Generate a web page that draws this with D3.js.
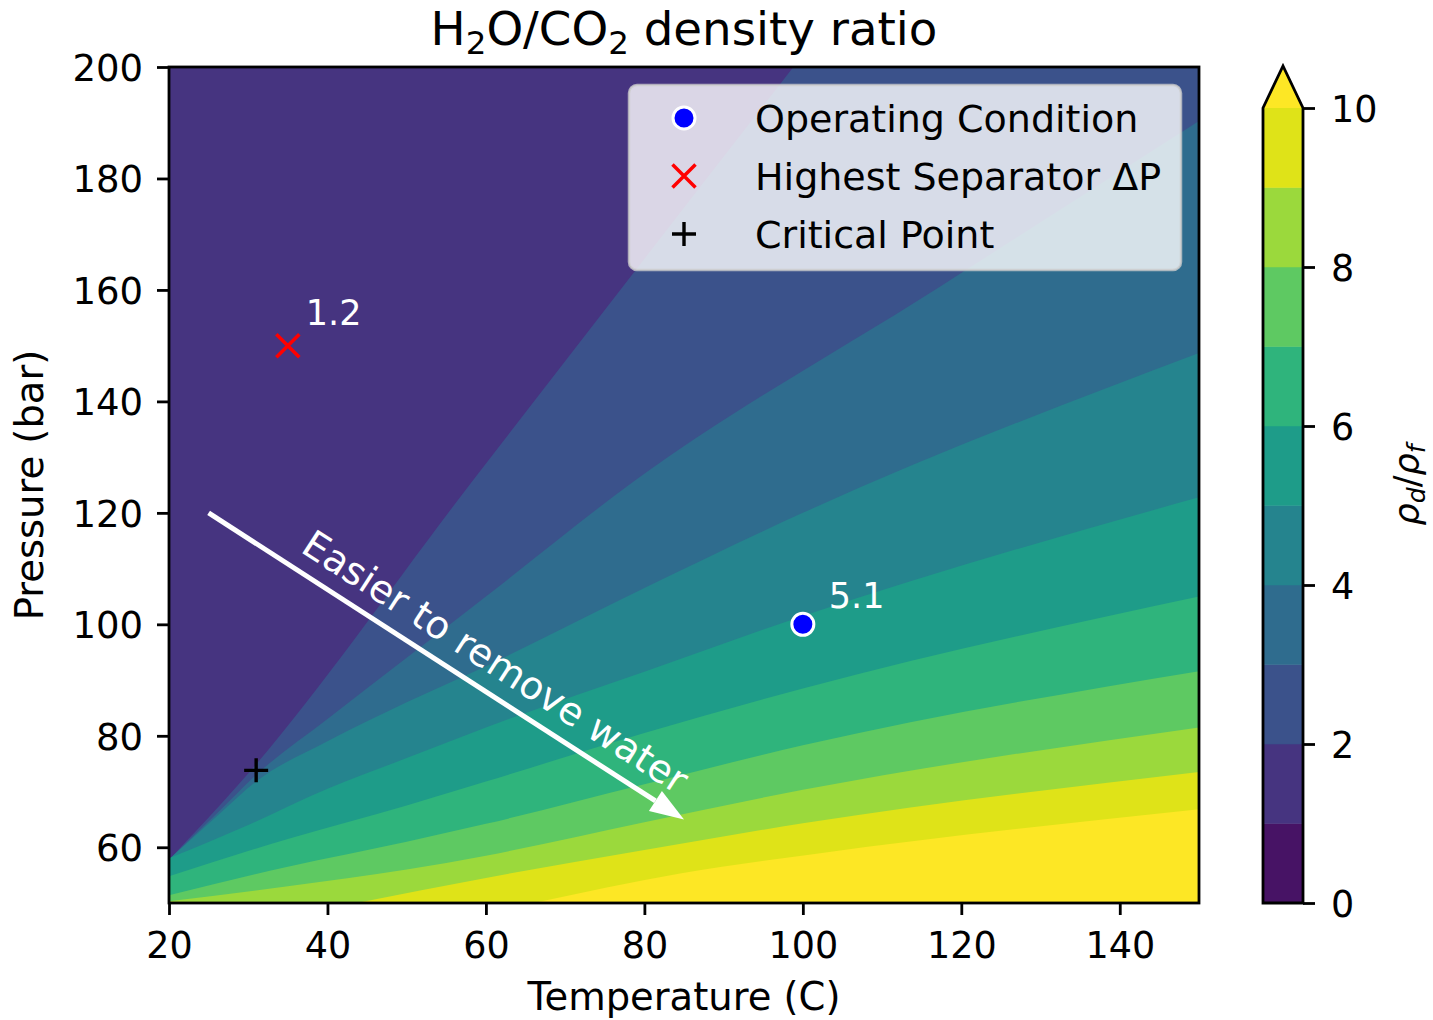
<!DOCTYPE html>
<html><head><meta charset="utf-8">
<script src="https://cdn.jsdelivr.net/npm/d3@7"></script>
<style>
body{margin:0;background:#fff}
text{font-family:"DejaVu Sans",sans-serif}
</style>
</head><body>
<svg id="chart" width="1433" height="1020"></svg>
<script>
// ---------------- data ----------------
const tempDomain = [20, 150];
const presDomain = [50, 200];
const xTicks = [20, 40, 60, 80, 100, 120, 140];
const yTicks = [60, 80, 100, 120, 140, 160, 180, 200];
const cbLevels = [0, 1, 2, 3, 4, 5, 6, 7, 8, 9, 10];
const cbTicks = [0, 2, 4, 6, 8, 10];

// contour boundaries (Temperature C, Pressure bar)
const boundary2  = [[20.3,58.2],[29.3,72.1],[58.4,125.9],[98.8,200]];
const boundary3  = [[20.3,58.2],[26,66],[31,73],[40,83],[50,94],[60,105],[78.9,125.9],[117.2,160.5],[150,190.3]];
const boundary4  = [[20.3,58.2],[26,65.5],[31,71.8],[40,79],[50,86],[60,92.5],[80,106.5],[100,120],[150,148.7]];
const boundary5  = [[20.3,58.2],[30,64],[40,70.5],[50,76],[60,81.5],[80,91.5],[100,101.5],[150,122.8]];
const boundary6  = [[20,54.8],[35,61.5],[50,67.5],[60,71.8],[80,80.5],[100,88.5],[150,105]];
const boundary7  = [[20,51.4],[35,56.5],[50,61],[60,64.2],[80,71.3],[100,78.3],[150,91.6]];
const boundary8  = [[20,50.3],[35,53],[50,56],[60,58.5],[80,64.5],[100,70.3],[150,81.5]];
const boundary9  = [[43.7,50],[60,54.5],[80,59.5],[100,64.3],[150,73.5]];
const boundary10 = [[66,50],[84.5,55.3],[101.5,58.8],[150,66.8]];
const boundaryLevels = [2,3,4,5,6,7,8,9,10];
const boundaries = [boundary2,boundary3,boundary4,boundary5,boundary6,boundary7,boundary8,boundary9,boundary10];

const operating = {T:100, P:100, label:"5.1", name:"Operating Condition"};
const highestDP = {T:35, P:150, label:"1.2", name:"Highest Separator ΔP"};
const critical  = {T:31, P:73.8, name:"Critical Point"};
const arrowFrom = [25, 120];
const arrowTo   = [85, 65];
const arrowText = "Easier to remove water";
const arrowTextAt = [61.2, 93.3];

// ---------------- layout ----------------
const svg = d3.select("#chart");
const L = 169, R = 1199, T = 67, B = 903;
const x = d3.scaleLinear().domain(tempDomain).range([L, R]);
const y = d3.scaleLinear().domain(presDomain).range([B, T]);
const bandColor = v => d3.interpolateViridis((v + 0.5) / 10);
const overColor = d3.interpolateViridis(1);
const lw = 2.8;
const tickFont = 36.5, labelFont = 38.5;

svg.append("clipPath").attr("id","plotclip")
  .append("rect").attr("x",L).attr("y",T).attr("width",R-L).attr("height",B-T);
const plot = svg.append("g").attr("clip-path","url(#plotclip)");
plot.append("rect").attr("x",L).attr("y",T).attr("width",R-L).attr("height",B-T)
  .attr("fill", bandColor(1));

const curve = d3.line().curve(d3.curveMonotoneX);
function regionPath(pts){
  const p = pts.map(d => [x(d[0]), y(d[1])]);
  const n = p.length;
  const ext = (a, b) => { const dx=a[0]-b[0], dy=a[1]-b[1], l=Math.hypot(dx,dy); return [a[0]+dx/l*3000, a[1]+dy/l*3000]; };
  const s = ext(p[0], p[1]);
  const e = ext(p[n-1], p[n-2]);
  const c = curve(p).replace(/^M/, "L");
  return `M${s[0]},${s[1]}${c}L${e[0]},${e[1]}L6000,6000Z`;
}
boundaries.forEach((pts, i) => {
  const lev = boundaryLevels[i];
  plot.append("path")
    .attr("d", regionPath(pts))
    .attr("fill", lev >= 10 ? overColor : bandColor(lev));
});

// arrow
const ax0 = x(arrowFrom[0]), ay0 = y(arrowFrom[1]), ax1 = x(arrowTo[0]), ay1 = y(arrowTo[1]);
const ang = Math.atan2(ay1 - ay0, ax1 - ax0);
const headL = 34, headW = 12;
const bx = ax1 - Math.cos(ang)*headL, by = ay1 - Math.sin(ang)*headL;
plot.append("line").attr("x1",ax0).attr("y1",ay0).attr("x2",bx).attr("y2",by)
  .attr("stroke","#fff").attr("stroke-width",5);
plot.append("path").attr("fill","#fff")
  .attr("d", d3.line()([[ax1,ay1],[bx - Math.sin(ang)*headW, by + Math.cos(ang)*headW],[bx + Math.sin(ang)*headW, by - Math.cos(ang)*headW]]) + "Z");
const deg = ang * 180 / Math.PI;
plot.append("text")
  .attr("transform", `translate(${x(arrowTextAt[0])},${y(arrowTextAt[1])}) rotate(${deg})`)
  .attr("text-anchor","middle").attr("dominant-baseline","central")
  .attr("font-size",38.5).attr("fill","#fff").text(arrowText);

// markers
function drawMarkers(g, cx, cy, kind){
  if (kind === "o") {
    g.append("circle").attr("cx",cx).attr("cy",cy).attr("r",11)
      .attr("fill","#0000ff").attr("stroke","#fff").attr("stroke-width",3);
  } else if (kind === "x") {
    const s = 11.5;
    g.append("path").attr("d",`M${cx-s},${cy-s}L${cx+s},${cy+s}M${cx-s},${cy+s}L${cx+s},${cy-s}`)
      .attr("stroke","#ff0000").attr("stroke-width",3.5).attr("fill","none");
  } else {
    const s = 12;
    g.append("path").attr("d",`M${cx-s},${cy}L${cx+s},${cy}M${cx},${cy-s}L${cx},${cy+s}`)
      .attr("stroke","#000").attr("stroke-width",3.4).attr("fill","none");
  }
}
drawMarkers(plot, x(operating.T), y(operating.P), "o");
drawMarkers(plot, x(highestDP.T), y(highestDP.P), "x");
drawMarkers(plot, x(critical.T), y(critical.P), "+");
plot.append("text").attr("x", x(operating.T)+26).attr("y", y(operating.P)-16)
  .attr("font-size",35).attr("fill","#fff").text(operating.label);
plot.append("text").attr("x", x(highestDP.T)+18).attr("y", y(highestDP.P)-21)
  .attr("font-size",35).attr("fill","#fff").text(highestDP.label);

// legend
const lg = svg.append("g");
lg.append("rect").attr("x",629).attr("y",85).attr("width",552).attr("height",185).attr("rx",8)
  .attr("fill","#fff").attr("fill-opacity",0.8).attr("stroke","#cccccc").attr("stroke-opacity",0.8).attr("stroke-width",2.5);
const legItems = [[operating.name,"o"],[highestDP.name,"x"],[critical.name,"+"]];
legItems.forEach((d,i) => {
  const cy = 118 + i*58;
  drawMarkers(lg, 684, cy, d[1]);
  lg.append("text").attr("x",755).attr("y",cy).attr("dy","0.36em").attr("font-size",38).attr("fill","#000").text(d[0]);
});

// spines
svg.append("rect").attr("x",L).attr("y",T).attr("width",R-L).attr("height",B-T)
  .attr("fill","none").attr("stroke","#000").attr("stroke-width",lw);

// axes
const xa = svg.append("g").attr("transform",`translate(0,${B})`)
  .call(d3.axisBottom(x).tickValues(xTicks).tickSizeInner(12).tickSizeOuter(0).tickPadding(17));
const ya = svg.append("g").attr("transform",`translate(${L},0)`)
  .call(d3.axisLeft(y).tickValues(yTicks).tickSizeInner(12).tickSizeOuter(0).tickPadding(14));
[xa, ya].forEach(a => {
  a.select(".domain").remove();
  a.selectAll(".tick line").attr("stroke","#000").attr("stroke-width",lw);
  a.selectAll(".tick text").attr("font-size",tickFont).attr("fill","#000").attr("font-family","DejaVu Sans");
});
ya.selectAll(".tick text").attr("dy","0.36em").attr("font-size",37);

svg.append("text").attr("x",(L+R)/2).attr("y",1010).attr("text-anchor","middle")
  .attr("font-size",labelFont).text("Temperature (C)");
svg.append("text").attr("transform",`translate(43,${(T+B)/2}) rotate(-90)`).attr("text-anchor","middle")
  .attr("font-size",labelFont).text("Pressure (bar)");

// title
const tt = svg.append("text").attr("x",(L+R)/2).attr("y",45).attr("text-anchor","middle").attr("font-size",46.7);
tt.append("tspan").text("H");
tt.append("tspan").attr("dy",9).attr("font-size",32.5).text("2");
tt.append("tspan").attr("dy",-9).text("O/CO");
tt.append("tspan").attr("dy",9).attr("font-size",32.5).text("2");
tt.append("tspan").attr("dy",-9).text(" density ratio");

// colorbar
const cbx0 = 1263, cbx1 = 1303;
const cb = d3.scaleLinear().domain([0,10]).range([B,108]);
const cg = svg.append("g");
cbLevels.slice(0,-1).forEach(v => {
  cg.append("rect").attr("x",cbx0).attr("y",cb(v+1)).attr("width",cbx1-cbx0).attr("height",cb(v)-cb(v+1))
    .attr("fill",bandColor(v)).attr("stroke",bandColor(v)).attr("stroke-width",0.5);
});
cg.append("path").attr("d",`M${cbx0},${cb(10)}L${(cbx0+cbx1)/2},66L${cbx1},${cb(10)}Z`).attr("fill",overColor);
cg.append("path").attr("d",`M${cbx0},${cb(0)}L${cbx0},${cb(10)}L${(cbx0+cbx1)/2},66L${cbx1},${cb(10)}L${cbx1},${cb(0)}Z`)
  .attr("fill","none").attr("stroke","#000").attr("stroke-width",lw);
const ca = cg.append("g").attr("transform",`translate(${cbx1},0)`)
  .call(d3.axisRight(cb).tickValues(cbTicks).tickSizeInner(12).tickSizeOuter(0).tickPadding(16));
ca.select(".domain").remove();
ca.selectAll(".tick line").attr("stroke","#000").attr("stroke-width",lw);
ca.selectAll(".tick text").attr("font-size",tickFont).attr("fill","#000").attr("dy","0.36em");

const cl = svg.append("text").attr("transform",`translate(1419,${(T+B)/2}) rotate(-90)`)
  .attr("text-anchor","middle").attr("font-size",35).attr("font-style","italic");
cl.append("tspan").text("ρ");
cl.append("tspan").attr("dy",6).attr("font-size",25).text("d");
cl.append("tspan").attr("dy",-6).attr("font-style","normal").text("/");
cl.append("tspan").text("ρ");
cl.append("tspan").attr("dy",6).attr("font-size",25).text("f");
</script>
</body></html>
